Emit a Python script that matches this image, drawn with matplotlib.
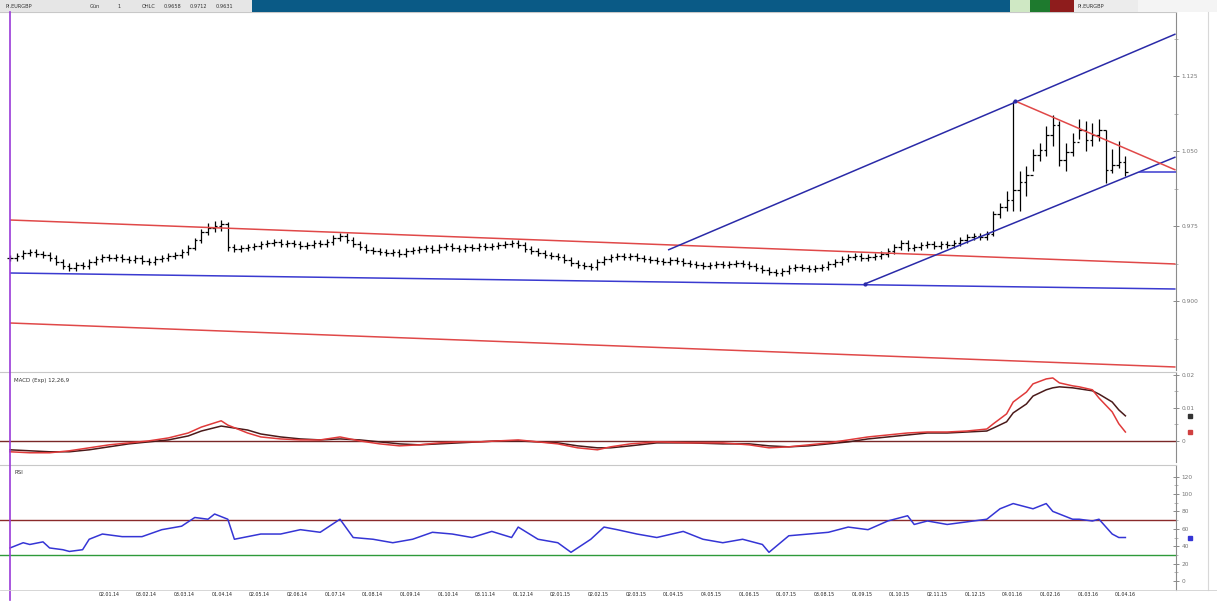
"""Three-pane price chart: OHLC bars with hand-drawn trend lines, MACD and RSI underneath."""

import matplotlib

matplotlib.use("Agg")
import matplotlib.pyplot as plt
import numpy as np
from matplotlib.lines import Line2D
from matplotlib.patches import Rectangle

W, H = 1217, 601  # output size in pixels

# --- price bars (close per bar; open = previous close) -------------------------------------
closes = [
    0.943, 0.945, 0.948, 0.949, 0.947, 0.946, 0.943, 0.939, 0.935, 0.933,
    0.936, 0.935, 0.939, 0.942, 0.944, 0.943, 0.944, 0.942, 0.941, 0.943,
    0.940, 0.939, 0.942, 0.943, 0.945, 0.946, 0.949, 0.953, 0.961, 0.969,
    0.973, 0.975, 0.977, 0.954, 0.952, 0.953, 0.954, 0.955, 0.957, 0.958,
    0.959, 0.957, 0.958, 0.957, 0.955, 0.956, 0.958, 0.957, 0.959, 0.963,
    0.965, 0.961, 0.957, 0.954, 0.951, 0.950, 0.949, 0.948, 0.949, 0.947,
    0.950, 0.951, 0.952, 0.953, 0.951, 0.954, 0.955, 0.953, 0.952, 0.954,
    0.953, 0.955, 0.954, 0.955, 0.956, 0.957, 0.958, 0.956, 0.952, 0.950,
    0.948, 0.946, 0.945, 0.944, 0.941, 0.938, 0.936, 0.935, 0.934, 0.939,
    0.942, 0.944, 0.945, 0.944, 0.945, 0.943, 0.942, 0.941, 0.940, 0.939,
    0.941, 0.940, 0.938, 0.937, 0.936, 0.935, 0.936, 0.937, 0.936, 0.937,
    0.938, 0.937, 0.935, 0.933, 0.931, 0.929, 0.928, 0.930, 0.933, 0.934,
    0.933, 0.932, 0.933, 0.934, 0.937, 0.939, 0.942, 0.944, 0.945, 0.943,
    0.944, 0.945, 0.947, 0.950, 0.954, 0.958, 0.953, 0.954, 0.956, 0.957,
    0.955, 0.957, 0.956, 0.958, 0.961, 0.964, 0.965, 0.964, 0.967, 0.987,
    0.994, 1.001, 1.011, 1.019, 1.026, 1.046, 1.051, 1.066, 1.076, 1.041,
    1.049, 1.059, 1.071, 1.061, 1.066, 1.071, 1.031, 1.036, 1.039, 1.029,
]
# bars whose range is wider than the usual small tick
wide_idx = [28, 29, 30, 31, 32, 33, 149, 150, 151, 152, 153, 154, 155, 156, 157, 158,
            159, 160, 161, 162, 163, 164, 165, 166, 167, 168, 169]
wide_high = [0.963, 0.972, 0.978, 0.980, 0.981, 0.979, 0.990, 0.998, 1.010, 1.100, 1.030,
             1.035, 1.052, 1.058, 1.075, 1.086, 1.080, 1.058, 1.068, 1.082, 1.080, 1.078,
             1.082, 1.071, 1.052, 1.060, 1.045]
wide_low = [0.951, 0.958, 0.966, 0.969, 0.970, 0.950, 0.965, 0.983, 0.990, 0.990, 0.990,
            1.005, 1.030, 1.040, 1.045, 1.055, 1.035, 1.030, 1.045, 1.062, 1.050, 1.055,
            1.060, 1.018, 1.028, 1.033, 1.025]

# --- MACD pane ------------------------------------------------------------------------------
macd_idx = [0, 3, 6, 9, 12, 15, 18, 21, 24, 27, 29, 32, 33, 36, 38, 41, 44, 47, 50, 53,
            56, 59, 62, 65, 68, 71, 74, 77, 80, 83, 86, 89, 91, 94, 98, 103, 108, 112, 115,
            118, 121, 124, 127, 130, 133, 136, 139, 142, 145, 148, 149, 151, 152, 154, 155,
            157, 158, 159, 161, 162, 164, 165, 167, 168, 169]
macd_line = [-0.0033, -0.0036, -0.0036, -0.0030, -0.0021, -0.0012, -0.0006, 0.0000, 0.0009,
             0.0024, 0.0042, 0.0061, 0.0048, 0.0024, 0.0012, 0.0006, 0.0003, 0.0003, 0.0012,
             0.0000, -0.0009, -0.0015, -0.0012, -0.0006, -0.0003, -0.0003, 0.0000, 0.0003,
             -0.0003, -0.0009, -0.0021, -0.0027, -0.0018, -0.0009, -0.0003, -0.0006, -0.0006,
             -0.0012, -0.0021, -0.0018, -0.0012, -0.0006, 0.0003, 0.0012, 0.0018, 0.0024,
             0.0027, 0.0027, 0.0030, 0.0036, 0.0052, 0.0082, 0.0118, 0.0148, 0.0173, 0.0188,
             0.0191, 0.0176, 0.0167, 0.0164, 0.0155, 0.0130, 0.0088, 0.0052, 0.0027]
macd_signal = [-0.0027, -0.0030, -0.0033, -0.0033, -0.0027, -0.0018, -0.0009, -0.0003,
               0.0003, 0.0015, 0.0030, 0.0045, 0.0042, 0.0033, 0.0021, 0.0012, 0.0006,
               0.0003, 0.0006, 0.0003, -0.0003, -0.0009, -0.0012, -0.0009, -0.0006,
               -0.0003, 0.0000, 0.0000, -0.0003, -0.0006, -0.0015, -0.0021, -0.0021,
               -0.0015, -0.0006, -0.0006, -0.0009, -0.0009, -0.0015, -0.0018, -0.0015,
               -0.0009, -0.0003, 0.0006, 0.0012, 0.0018, 0.0024, 0.0024, 0.0027, 0.0030,
               0.0039, 0.0058, 0.0085, 0.0112, 0.0136, 0.0155, 0.0161, 0.0164, 0.0161,
               0.0158, 0.0152, 0.0142, 0.0118, 0.0094, 0.0076]

# --- RSI pane -------------------------------------------------------------------------------
rsi_idx = [0, 2, 3, 5, 6, 8, 9, 11, 12, 14, 17, 20, 23, 26, 28, 30, 31, 33, 34, 38, 41, 44,
           47, 50, 52, 55, 58, 61, 64, 67, 70, 73, 76, 77, 80, 83, 85, 86, 88, 90, 92, 95,
           98, 102, 105, 108, 111, 114, 115, 118, 121, 124, 127, 130, 133, 136, 137, 139,
           142, 145, 148, 150, 152, 155, 157, 158, 161, 162, 164, 165, 167, 168, 169]
rsi_vals = [38, 44, 42, 45, 38, 36, 34, 36, 48, 54, 51, 51, 59, 63, 73, 71, 77, 71, 48, 54,
            54, 59, 56, 71, 50, 48, 44, 48, 56, 54, 50, 57, 50, 62, 48, 44, 33, 38, 48, 62,
            59, 54, 50, 57, 48, 44, 48, 42, 33, 52, 54, 56, 62, 59, 69, 75, 65, 69, 65, 68,
            71, 83, 89, 83, 89, 80, 71, 71, 69, 71, 54, 50, 50]
rsi_levels = [70, 30]

# --- hand-drawn trend lines: (bar0, price0, bar1, price1, colour) ---------------------------
trend_lines = [
    (0.0, 0.981, 176.6, 0.937, "#e04848"),
    (0.0, 0.878, 176.6, 0.834, "#e04848"),
    (0.0, 0.928, 176.6, 0.912, "#3a3ad0"),
    (99.7, 0.951, 176.6, 1.167, "#2a2aa8"),
    (129.5, 0.917, 176.6, 1.044, "#2a2aa8"),
    (152.3, 1.100, 176.6, 1.031, "#e04848"),
    (171.0, 1.029, 176.6, 1.029, "#3a3ad0"),
]
anchor_bars = [129.5, 152.3]
anchor_prices = [0.917, 1.100]

price_ticks = [0.900, 0.975, 1.050, 1.125]
macd_ticks = [0.0, 0.01, 0.02]
rsi_ticks = [0, 20, 40, 60, 80, 100, 120]
date_labels = ["02.01.14", "03.02.14", "03.03.14", "01.04.14", "02.05.14", "02.06.14",
               "01.07.14", "01.08.14", "01.09.14", "01.10.14", "03.11.14", "01.12.14",
               "02.01.15", "02.02.15", "02.03.15", "01.04.15", "04.05.15", "01.06.15",
               "01.07.15", "03.08.15", "01.09.15", "01.10.15", "02.11.15", "01.12.15",
               "04.01.16", "01.02.16", "01.03.16", "01.04.16"]


def fx(x):
    return x / W


def fy(y):
    return 1 - y / H


X_LEFT = -10 / 6.6          # bar 0 sits 10 px in from the left edge
X_RIGHT = (1176 - 10) / 6.6  # right axis line at 1176 px

fig = plt.figure(figsize=(W / 100, H / 100), dpi=100)
fig.patch.set_facecolor("white")

ax_p = fig.add_axes([0, fy(370), fx(1176), (370 - 12) / H])
ax_m = fig.add_axes([0, fy(462), fx(1176), (462 - 372) / H], sharex=ax_p)
ax_r = fig.add_axes([0, fy(590), fx(1176), (590 - 465) / H], sharex=ax_p)

for ax in (ax_p, ax_m, ax_r):
    ax.set_facecolor("white")
    for s in ("left", "bottom"):
        ax.spines[s].set_visible(False)
    ax.spines["top"].set_color("#c8c8c8")
    ax.spines["top"].set_linewidth(0.8)
    ax.spines["right"].set_color("#8c8c8c")
    ax.spines["right"].set_linewidth(0.8)
    ax.yaxis.tick_right()
    ax.tick_params(axis="y", labelsize=4.2, colors="#777777", direction="inout", length=4,
                   width=0.6, pad=2)
    ax.tick_params(axis="y", which="minor", direction="inout", length=2.5, width=0.5,
                   colors="#999999")
    ax.tick_params(axis="x", length=0, labelbottom=False)
ax_p.set_xlim(X_LEFT, X_RIGHT)

# ---- price pane ----
idx = np.arange(len(closes))
c = np.array(closes)
o = np.concatenate([[c[0]], c[:-1]])
pad = 0.003
hi = np.maximum(o, c) + pad
lo = np.minimum(o, c) - pad
hi[wide_idx] = wide_high
lo[wide_idx] = wide_low
ax_p.vlines(idx, lo, hi, color="black", linewidth=0.9)
ax_p.hlines(o, idx - 0.4, idx, color="black", linewidth=0.9)
ax_p.hlines(c, idx, idx + 0.4, color="black", linewidth=0.9)

for b0, p0, b1, p1, col in trend_lines:
    ax_p.plot([b0, b1], [p0, p1], color=col, linewidth=1.1, solid_capstyle="butt")
ax_p.plot(anchor_bars, anchor_prices, "o", color="#2a2aa8", markersize=2)

ax_p.set_ylim(0.831, 1.189)
ax_p.set_yticks(price_ticks)
ax_p.set_yticklabels([f"{t:.3f}" for t in price_ticks])
ax_p.set_yticks([0.8625, 0.9375, 1.0125, 1.0875, 1.1625], minor=True)

# ---- MACD pane ----
ax_m.axhline(0, color="#7a2828", linewidth=1.0)
ax_m.plot(macd_idx, macd_signal, color="#4a1a1a", linewidth=1.1)
ax_m.plot(macd_idx, macd_line, color="#e03a3a", linewidth=1.1)
ax_m.set_ylim(-0.0064, 0.0209)
ax_m.set_yticks(macd_ticks)
ax_m.set_yticklabels(["0", "0.01", "0.02"])
ax_m.set_yticks([0.005, 0.015], minor=True)
ax_m.text(0.012, 0.93, "MACD (Exp) 12,26,9", transform=ax_m.transAxes, fontsize=4,
          color="#333333", va="top")
for val, col in ((macd_signal[-1], "#333333"), (macd_line[-1], "#d04040")):
    ax_m.annotate("", xy=(1.012, val), xycoords=("axes fraction", "data"))
    ax_m.plot([1.012], [val], "s", color=col, markersize=2.5, transform=ax_m.get_yaxis_transform(),
              clip_on=False)

# ---- RSI pane ----
ax_r.axhline(rsi_levels[0], color="#8a2a2a", linewidth=1.0)
ax_r.axhline(rsi_levels[1], color="#2e9a3a", linewidth=1.0)
ax_r.plot(rsi_idx, rsi_vals, color="#3535d5", linewidth=1.1)
ax_r.set_ylim(-10.3, 133.3)
ax_r.set_yticks(rsi_ticks)
ax_r.set_yticklabels([str(t) for t in rsi_ticks])
ax_r.set_yticks([10, 30, 50, 70, 90, 110], minor=True)
ax_r.text(0.012, 0.96, "RSI", transform=ax_r.transAxes, fontsize=4, color="#333333",
          va="top")
ax_r.plot([1.012], [rsi_vals[-1]], "s", color="#3535d5", markersize=2.5,
          transform=ax_r.get_yaxis_transform(), clip_on=False)
ax_r.tick_params(axis="x", labelbottom=True, labelsize=3.4, pad=1.5, colors="#222222")
ax_r.set_xticks(np.linspace(15, 169, len(date_labels)))
ax_r.set_xticklabels(date_labels)

# ---- frame details: cursor line, right border, header strip ----
fig.add_artist(Line2D([fx(9.5), fx(9.5)], [fy(600), fy(12)], color="#9a3ad8", linewidth=1.2))
fig.add_artist(Line2D([fx(1208), fx(1208)], [fy(590), fy(12)], color="#d8d8d8", linewidth=0.8))
fig.add_artist(Line2D([0, 1], [fy(590), fy(590)], color="#d0d0d0", linewidth=0.6))

header = [
    (0, 252, "#e6e6e6"),
    (252, 1010, "#0a5a86"),
    (1010, 1030, "#cfe8c4"),
    (1030, 1050, "#1e7a2e"),
    (1050, 1074, "#8e1c1c"),
    (1074, 1138, "#ececec"),
    (1138, 1217, "#f4f4f4"),
]
for x0, x1, col in header:
    fig.add_artist(Rectangle((fx(x0), fy(12)), fx(x1 - x0), 12 / H, transform=fig.transFigure,
                             facecolor=col, edgecolor="none"))
for x, label in ((6, "PI.EURGBP"), (90, "Gün"), (118, "1"), (142, "OHLC"),
                 (164, "0.9658"), (190, "0.9712"), (216, "0.9631")):
    fig.text(fx(x), fy(6), label, fontsize=3.6, color="#333333", va="center")
fig.text(fx(1078), fy(6), "PI.EURGBP", fontsize=3.6, color="#333333", va="center")

fig.savefig("out.png", dpi=100)
